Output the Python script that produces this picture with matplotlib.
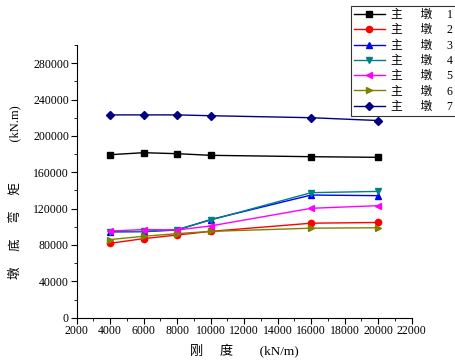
import matplotlib
matplotlib.use('Agg')
import matplotlib.pyplot as plt
from matplotlib.ticker import MultipleLocator

plt.rcParams['font.family'] = ['Liberation Serif', 'Noto Sans CJK SC']

# 刚度 (kN/m)
stiffness = [4000, 6000, 8000, 10000, 16000, 20000]

# 墩底弯矩 (kN.m)
pier1 = [179400, 181600, 180500, 178700, 177200, 176500]
pier2 = [81900, 87000, 91000, 95000, 104000, 104800]
pier3 = [94700, 94700, 96500, 108000, 135000, 134300]
pier4 = [94300, 95000, 97000, 107500, 137600, 139000]
pier5 = [95400, 97000, 96500, 101000, 120400, 123300]
pier6 = [86000, 89600, 92500, 95000, 98500, 99000]
pier7 = [223200, 223200, 223200, 222300, 220100, 217000]

series = [pier1, pier2, pier3, pier4, pier5, pier6, pier7]
labels = ['主　  墩　 %d' % i for i in range(1, 8)]
colors = ['black', 'red', 'blue', '#008080', 'magenta', '#808000', '#000080']
markers = ['s', 'o', '^', 'v', '<', '>', 'D']

fig = plt.figure(figsize=(4.56, 3.61), dpi=100)
ax = fig.add_axes([0.168, 0.12, 0.735, 0.755])

for vals, lab, c, m in zip(series, labels, colors, markers):
    ax.plot(stiffness, vals, color=c, marker=m, markersize=4.5,
            linewidth=1.0, label=lab)

ax.set_xlim(2000, 22000)
ax.set_ylim(0, 300000)
ax.xaxis.set_major_locator(MultipleLocator(2000))
ax.xaxis.set_minor_locator(MultipleLocator(1000))
ax.yaxis.set_major_locator(MultipleLocator(40000))
ax.yaxis.set_minor_locator(MultipleLocator(20000))
ax.spines['top'].set_visible(False)
ax.spines['right'].set_visible(False)
ax.tick_params(which='major', direction='out', length=4, labelsize=8.5, pad=1.5)
ax.tick_params(which='minor', direction='out', length=2)

ax.set_xlabel('刚　 度　　(kN/m)', fontsize=9.5)
ax.xaxis.set_label_coords(0.5, -0.097)
ax.set_ylabel('墩　 底　 弯　 矩　　　 (kN.m)', fontsize=9)
ax.yaxis.set_label_coords(-0.166, 0.46)

leg = fig.legend(loc='upper right', bbox_to_anchor=(0.999, 0.983),
                 fontsize=8.5, frameon=True, fancybox=False, shadow=False,
                 handlelength=2.6, borderpad=0.25, labelspacing=0.28,
                 handletextpad=0.5, borderaxespad=0.0)
leg.get_frame().set_edgecolor('black')
leg.get_frame().set_linewidth(0.8)

fig.savefig('out.png', dpi=100)
